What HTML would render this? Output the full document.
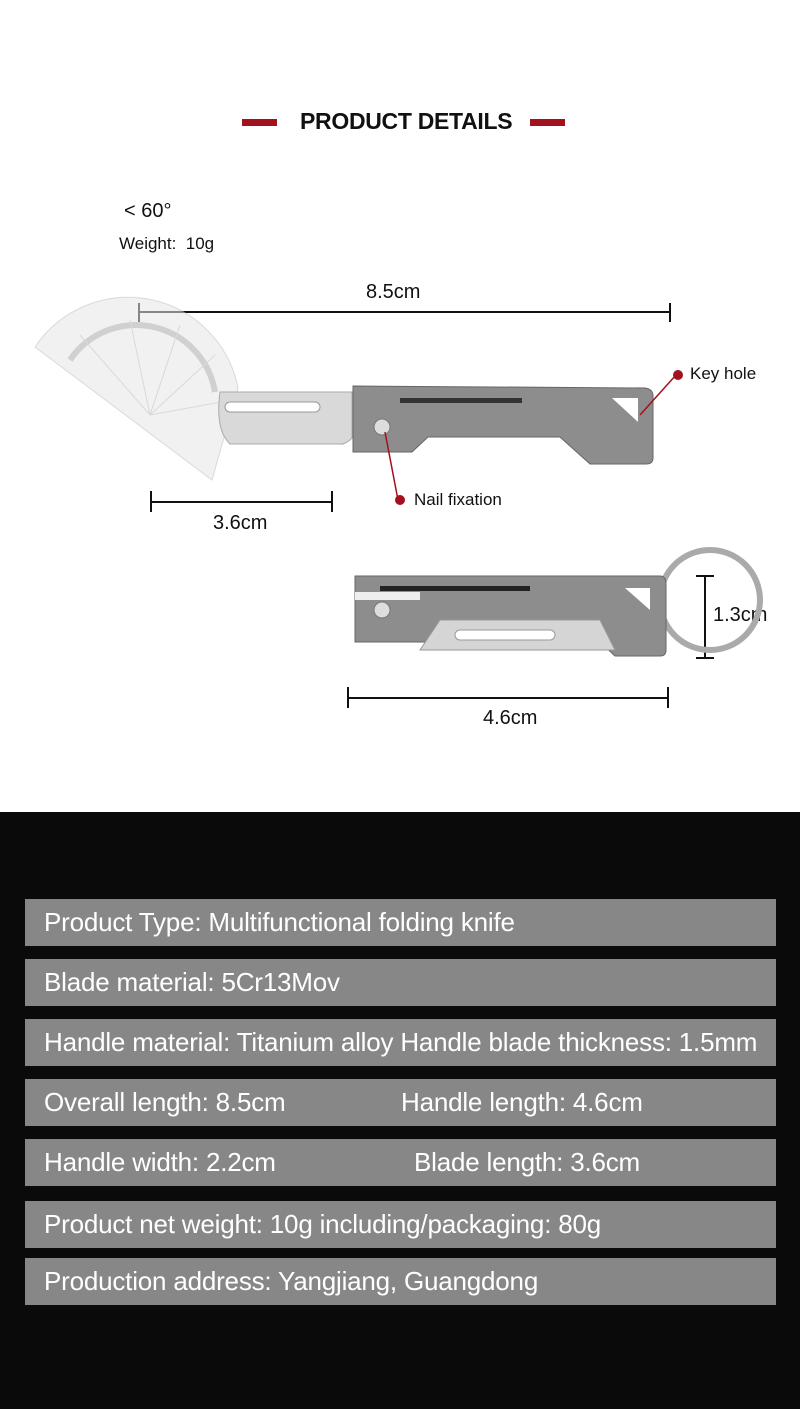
<!DOCTYPE html>
<html><head><meta charset="utf-8"><style>
body{margin:0;width:800px;height:1409px;background:#fff;position:relative;overflow:hidden;font-family:"Liberation Sans",sans-serif}
.t{position:absolute;color:#111;white-space:nowrap}
.dark{position:absolute;left:0;top:812px;width:800px;height:597px;background:#0a0a0a}
.bar{position:absolute;left:25px;width:751px;height:47px;background:#878787;color:#fff;font-size:26px;line-height:46px;white-space:nowrap;letter-spacing:-0.2px}
.bar span{position:absolute;left:19px}
</style></head><body>
<div style="position:absolute;left:242px;top:119px;width:35px;height:7px;background:#a3101e"></div>
<div style="position:absolute;left:530px;top:119px;width:35px;height:7px;background:#a3101e"></div>
<div class="t" style="left:300px;top:108px;font-size:23px;font-weight:bold;letter-spacing:-0.3px">PRODUCT DETAILS</div>
<div class="t" style="left:124px;top:200px;font-size:20px">&lt; 60°</div>
<div class="t" style="left:119px;top:234px;font-size:17px">Weight:&nbsp; 10g</div>
<div class="t" style="left:366px;top:281px;font-size:20px">8.5cm</div>
<div class="t" style="left:213px;top:512px;font-size:20px">3.6cm</div>
<div class="t" style="left:713px;top:604px;font-size:20px">1.3cm</div>
<div class="t" style="left:483px;top:707px;font-size:20px">4.6cm</div>
<div class="t" style="left:690px;top:364px;font-size:17px">Key hole</div>
<div class="t" style="left:414px;top:490px;font-size:17px">Nail fixation</div>
<svg width="800" height="812" style="position:absolute;left:0;top:0">
<g stroke="#111" stroke-width="2" fill="none">
<path d="M139 312H670M139 303V322M670 303V322"/>
<path d="M151 502H332M151 491V512M332 491V512"/>
<path d="M348 698H668M348 687V708M668 687V708"/>
<path d="M705 576V658M696 576H714M696 658H714"/>
</g>
<g opacity="0.55">
<path d="M35 347 A112 112 0 0 1 238 388 L212 480 Z" fill="#e6e6e6" stroke="#bbb"/>
<path d="M70 360 A80 80 0 0 1 215 392" fill="none" stroke="#aaa" stroke-width="6"/>
<path d="M150 415 L80 335 M150 415 L130 320 M150 415 L180 325 M150 415 L215 355 M150 415 L232 400" stroke="#bbb"/>
</g>
<path d="M220 392 L352 392 L352 438 Q345 445 340 444 L230 444 Q215 430 220 392Z" fill="#d9d9d9" stroke="#aaa"/>
<rect x="225" y="402" width="95" height="10" rx="5" fill="#fff" stroke="#999"/>
<path d="M353 386 L645 388 Q653 389 653 396 L653 458 Q653 464 646 464 L590 464 L560 437 L428 437 L412 452 L353 452Z" fill="#8d8d8d" stroke="#666"/>
<rect x="400" y="398" width="122" height="5" fill="#333"/>
<path d="M612 398 L638 398 L638 422Z" fill="#fff"/>
<circle cx="382" cy="427" r="8" fill="#ddd" stroke="#777"/>
<ellipse cx="710" cy="600" rx="50" ry="50" fill="none" stroke="#aaa" stroke-width="6"/>
<path d="M355 576 L660 576 Q666 576 666 584 L666 650 Q666 656 660 656 L615 656 L600 642 L355 642Z" fill="#8d8d8d" stroke="#666"/>
<path d="M440 620 L600 620 L615 650 L420 650Z" fill="#d5d5d5" stroke="#999"/>
<rect x="455" y="630" width="100" height="10" rx="5" fill="#fff" stroke="#999"/>
<rect x="380" y="586" width="150" height="5" fill="#222"/>
<path d="M355 592 L420 592 L420 600 L355 600Z" fill="#eee"/>
<path d="M625 588 L650 588 L650 610Z" fill="#fff"/>
<circle cx="382" cy="610" r="8" fill="#ddd" stroke="#777"/>
<g stroke="#a3101e" stroke-width="1.5"><path d="M640 415 L676 375"/><path d="M385 432 L398 500"/></g>
<circle cx="678" cy="375" r="5" fill="#a3101e"/><circle cx="400" cy="500" r="5" fill="#a3101e"/>
</svg>
<div class="dark"></div>
<div class="bar" style="top:899px"><span>Product Type: Multifunctional folding knife</span></div>
<div class="bar" style="top:959px"><span>Blade material: 5Cr13Mov</span></div>
<div class="bar" style="top:1019px"><span>Handle material: Titanium alloy Handle blade thickness: 1.5mm</span></div>
<div class="bar" style="top:1079px"><span>Overall length: 8.5cm</span><span style="left:376px">Handle length: 4.6cm</span></div>
<div class="bar" style="top:1139px"><span>Handle width: 2.2cm</span><span style="left:389px">Blade length: 3.6cm</span></div>
<div class="bar" style="top:1201px"><span>Product net weight: 10g including/packaging: 80g</span></div>
<div class="bar" style="top:1258px"><span>Production address: Yangjiang, Guangdong</span></div>
</body></html>
